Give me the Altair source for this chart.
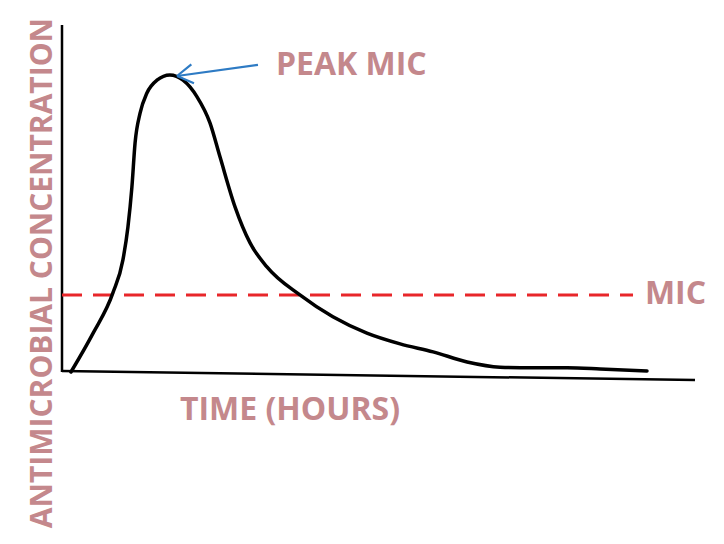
import altair as alt
import pandas as pd

# Concentration-time curve (time in hours, concentration in arbitrary units)
curve_time = [0.34, 1.18, 1.93, 2.31, 2.50, 2.65, 2.77, 2.96, 3.22, 3.60, 4.09, 4.59, 5.12,
              5.61, 5.99, 6.56, 7.13, 7.77, 9.02, 10.27, 11.56, 12.82, 14.07, 15.36, 16.61,
              17.86, 19.15, 20.40, 22.18]
curve_conc = [0.0, 1.12, 2.28, 3.23, 4.18, 5.33, 6.60, 7.46, 8.04, 8.41, 8.56, 8.41, 7.93,
              7.18, 6.20, 4.76, 3.72, 3.03, 2.22, 1.59, 1.12, 0.81, 0.58, 0.29, 0.14,
              0.12, 0.12, 0.09, 0.03]

mic_level = 2.22
mic_time = [0.0, 21.65]

# hand-drawn axes
xaxis_time = [0.0, 5.3, 24.0]
xaxis_conc = [0.03, -0.03, -0.23]
yaxis_time = [0.0, 0.0]
yaxis_conc = [0.0, 10.0]

# arrow pointing at the peak
arrow_time = [7.43, 4.36]
arrow_conc = [8.85, 8.53]

label_text = ["PEAK MIC", "TIME (HOURS)", "MIC"]
label_time = [8.11, 4.47, 22.10]
label_conc = [8.56, -1.38, 1.96]

ytitle = "ANTIMICROBIAL CONCENTRATION"
ytitle_time = -0.38
ytitle_conc = 2.85

PINK = "#c4888c"
FONT = "Open Sans"

XD = [0, 24]
YD = [0, 10]


def X(field="t"):
    return alt.X(f"{field}:Q", scale=alt.Scale(domain=XD, nice=False, zero=False), axis=None)


def Y(field="c"):
    return alt.Y(f"{field}:Q", scale=alt.Scale(domain=YD, nice=False, zero=False), axis=None)


curve_df = pd.DataFrame({"t": curve_time, "c": curve_conc})
mic_df = pd.DataFrame({"t": mic_time, "c": [mic_level] * len(mic_time)})
xaxis_df = pd.DataFrame({"t": xaxis_time, "c": xaxis_conc})
yaxis_df = pd.DataFrame({"t": yaxis_time, "c": yaxis_conc})
arrow_df = pd.DataFrame({"t": arrow_time, "c": arrow_conc, "o": [0, 1]})
head_df = pd.DataFrame({"t": [arrow_time[-1]], "c": [arrow_conc[-1]]})
label_df = pd.DataFrame({"label": label_text, "t": label_time, "c": label_conc})
ytitle_df = pd.DataFrame({"label": [ytitle], "t": [ytitle_time], "c": [ytitle_conc]})

xaxis = alt.Chart(xaxis_df).mark_line(color="black", strokeWidth=2.5).encode(x=X(), y=Y(), order="t:Q")
yaxis = alt.Chart(yaxis_df).mark_line(color="black", strokeWidth=2.5).encode(x=X(), y=Y(), order="c:Q")

mic = alt.Chart(mic_df).mark_line(color="#e8262a", strokeWidth=3, strokeDash=[20, 11]).encode(
    x=X(), y=Y())

curve = alt.Chart(curve_df).mark_line(
    color="black", strokeWidth=3.5, interpolate="monotone", strokeCap="round", strokeJoin="round"
).encode(x=X(), y=Y(), order="t:Q")

arrow = alt.Chart(arrow_df).mark_line(color="#2e7bc4", strokeWidth=2.2).encode(
    x=X(), y=Y(), order="o:Q")
head = alt.Chart(head_df).mark_point(
    shape="M0,0L1,-0.6M0,0L1,0.6", size=1000, angle=352, color="#2e7bc4",
    filled=False, strokeWidth=2.2, opacity=1
).encode(x=X(), y=Y())

labels = alt.Chart(label_df).mark_text(
    align="left", baseline="alphabetic", font=FONT, fontSize=32, fontWeight="bold", color=PINK
).encode(x=X(), y=Y(), text="label:N")

ylab = alt.Chart(ytitle_df).mark_text(
    align="center", baseline="alphabetic", angle=270, font=FONT, fontSize=30,
    fontWeight="bold", color=PINK
).encode(x=X(), y=Y(), text="label:N")

chart = alt.layer(xaxis, yaxis, mic, curve, arrow, head, labels, ylab).properties(
    width=633, height=347,
    autosize=alt.AutoSizeParams(type="none"),
    padding={"left": 54, "top": 17, "right": 21, "bottom": 164},
).configure_view(stroke=None)

chart.save("out.html", embed_options={"renderer": "svg", "actions": False})
